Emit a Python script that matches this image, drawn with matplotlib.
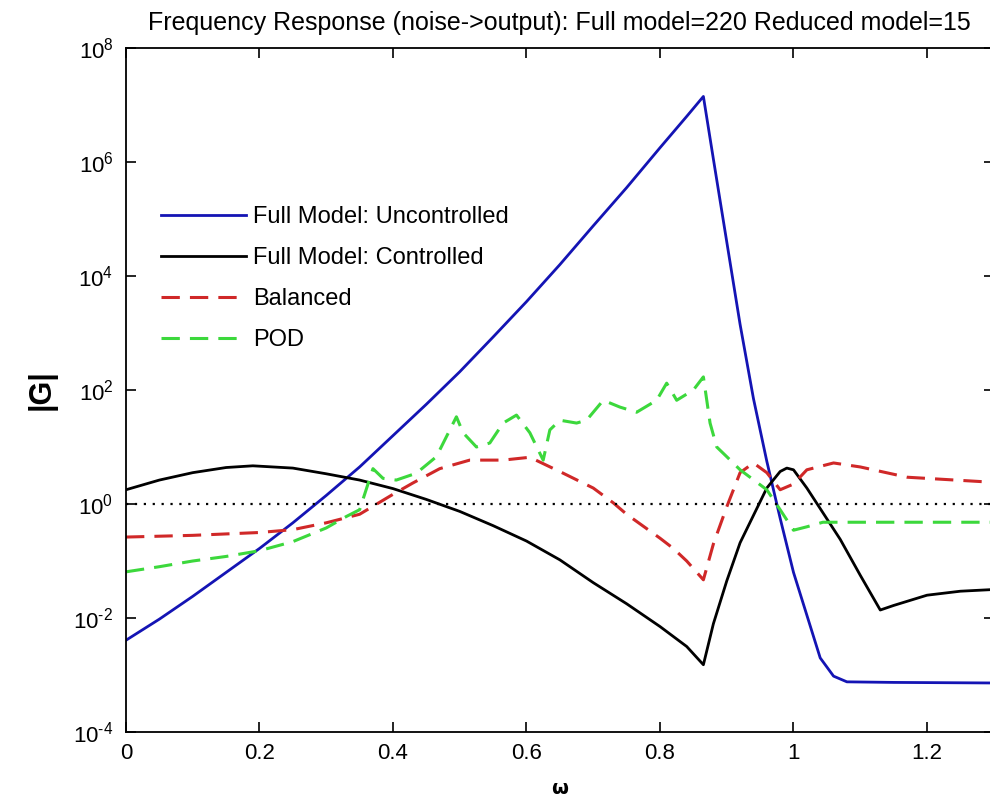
import numpy as np
import matplotlib
matplotlib.use("Agg")
import matplotlib.pyplot as plt
from matplotlib.ticker import FuncFormatter, NullLocator

plt.rcParams['font.family'] = ['Liberation Sans', 'DejaVu Sans']
plt.rcParams['mathtext.fontset'] = 'custom'
plt.rcParams['mathtext.rm'] = 'Liberation Sans'
plt.rcParams['mathtext.it'] = 'Liberation Sans'

# frequency response magnitudes, stored as log10|G|
W_FULL_UNC = [0.0, 0.05, 0.1, 0.15, 0.2, 0.25, 0.3, 0.35, 0.4, 0.45, 0.5, 0.55, 0.6,
              0.65, 0.7, 0.75, 0.8, 0.84, 0.865, 0.88, 0.9, 0.92, 0.94, 0.96, 0.98,
              1.0, 1.02, 1.04, 1.06, 1.08, 1.15, 1.3]
G_FULL_UNC = [-2.39, -2.02, -1.62, -1.2, -0.78, -0.33, 0.15, 0.65, 1.2, 1.75, 2.32, 2.93, 3.55,
              4.2, 4.88, 5.55, 6.25, 6.8, 7.15, 6.05, 4.6, 3.15, 1.85, 0.75, -0.25,
              -1.2, -1.95, -2.7, -3.02, -3.12, -3.13, -3.14]

W_FULL_CTL = [0.0, 0.05, 0.1, 0.15, 0.19, 0.25, 0.3, 0.35, 0.4, 0.45, 0.5, 0.55, 0.6,
              0.65, 0.7, 0.75, 0.8, 0.84, 0.865, 0.88, 0.9, 0.92, 0.94, 0.96, 0.98, 0.99,
              1.0, 1.02, 1.04, 1.07, 1.1, 1.13, 1.15, 1.2, 1.25, 1.3]
G_FULL_CTL = [0.25, 0.42, 0.55, 0.64, 0.67, 0.63, 0.53, 0.42, 0.27, 0.08, -0.13, -0.38, -0.65,
              -0.98, -1.38, -1.75, -2.15, -2.5, -2.82, -2.1, -1.35, -0.68, -0.2, 0.28, 0.57, 0.63,
              0.6, 0.28, -0.08, -0.62, -1.25, -1.86, -1.78, -1.6, -1.53, -1.5]

W_BAL = [0.0, 0.1, 0.2, 0.25, 0.3, 0.35, 0.4, 0.43, 0.47, 0.515, 0.565, 0.605, 0.655,
         0.7, 0.73, 0.75, 0.8, 0.82, 0.84, 0.865, 0.88, 0.9, 0.92, 0.94, 0.96, 0.98,
         1.0, 1.02, 1.06, 1.1, 1.17, 1.3]
G_BAL = [-0.58, -0.55, -0.5, -0.45, -0.33, -0.18, 0.17, 0.37, 0.62, 0.77, 0.77, 0.82, 0.54,
         0.28, 0.02, -0.18, -0.6, -0.78, -1.0, -1.33, -0.7, -0.05, 0.55, 0.72, 0.55, 0.25,
         0.35, 0.6, 0.72, 0.65, 0.47, 0.38]

W_POD = [0.0, 0.05, 0.1, 0.15, 0.2, 0.25, 0.3, 0.33, 0.35, 0.37, 0.385, 0.405, 0.435,
         0.465, 0.495, 0.505, 0.525, 0.545, 0.565, 0.585, 0.605, 0.625, 0.635, 0.65,
         0.675, 0.69, 0.715, 0.74, 0.765, 0.795, 0.81, 0.825, 0.85, 0.865, 0.875,
         0.885, 0.9, 0.92, 0.96, 0.98, 1.0, 1.02, 1.044, 1.3]
G_POD = [-1.19, -1.1, -1.0, -0.92, -0.82, -0.66, -0.42, -0.22, -0.1, 0.62, 0.45, 0.42, 0.54,
         0.83, 1.53, 1.25, 1.0, 1.07, 1.42, 1.56, 1.25, 0.77, 1.3, 1.47,
         1.42, 1.47, 1.82, 1.7, 1.61, 1.82, 2.12, 1.82, 2.0, 2.23, 1.42,
         1.0, 0.83, 0.6, 0.25, -0.1, -0.46, -0.4, -0.32, -0.32]

LABELS = ['Full Model: Uncontrolled', 'Full Model: Controlled', 'Balanced', 'POD']
TITLE = 'Frequency Response (noise->output): Full model=220 Reduced model=15'


def decade_label(v, pos):
    # plain hyphen in the exponent, like the old-style log labels
    e = int(round(np.log10(v)))
    s = ('\\text{-}%d' % -e) if e < 0 else '%d' % e
    return '$\\mathdefault{10^{%s}}$' % s


fig = plt.figure(figsize=(9.9, 8.06), dpi=100)
ax = fig.add_axes([126 / 990, 74 / 806, 867.75 / 990, 684 / 806])

ax.semilogy(W_FULL_UNC, 10 ** np.array(G_FULL_UNC), color='#1414b4', lw=2.0, label=LABELS[0])
ax.semilogy(W_FULL_CTL, 10 ** np.array(G_FULL_CTL), color='black', lw=2.0, label=LABELS[1])
ax.semilogy(W_BAL, 10 ** np.array(G_BAL), color='#d02828', lw=2.2, dashes=(6, 3.3), label=LABELS[2])
ax.semilogy(W_POD, 10 ** np.array(G_POD), color='#3cd83c', lw=2.2, dashes=(6, 3.3), label=LABELS[3])
ax.axhline(1.0, color='black', lw=1.6, ls=(0, (1, 3)))

ax.set_xlim(0, 1.3)
ax.set_ylim(1e-4, 1e8)
ax.set_xticks([0, 0.2, 0.4, 0.6, 0.8, 1.0, 1.2])
ax.set_xticklabels(['0', '0.2', '0.4', '0.6', '0.8', '1', '1.2'])
ax.set_yticks([1e-4, 1e-2, 1e0, 1e2, 1e4, 1e6, 1e8])
ax.yaxis.set_major_formatter(FuncFormatter(decade_label))
ax.yaxis.set_minor_locator(NullLocator())
ax.tick_params(which='both', direction='in', top=True, right=True, length=7, width=1.2,
               labelsize=16)
ax.tick_params(axis='y', pad=9)
ax.tick_params(axis='x', pad=8)
for s in ax.spines.values():
    s.set_linewidth(1.3)

ax.set_title(TITLE, fontsize=18, pad=13)
ax.set_ylabel('|G|', fontsize=22, fontweight='bold')
ax.yaxis.set_label_coords(-0.08, 0.5)
ax.set_xlabel('ω', fontsize=14, fontweight='bold', family='DejaVu Sans')
ax.xaxis.set_label_coords(0.5, -0.068)

ax.legend(loc='upper left', bbox_to_anchor=(161 / 990, 1 - 206 / 806),
          bbox_transform=fig.transFigure, frameon=False,
          handlelength=3.6, handletextpad=0.3, labelspacing=0.81, borderpad=0,
          borderaxespad=0, prop={'size': 17})

fig.savefig('out.png', dpi=100)
